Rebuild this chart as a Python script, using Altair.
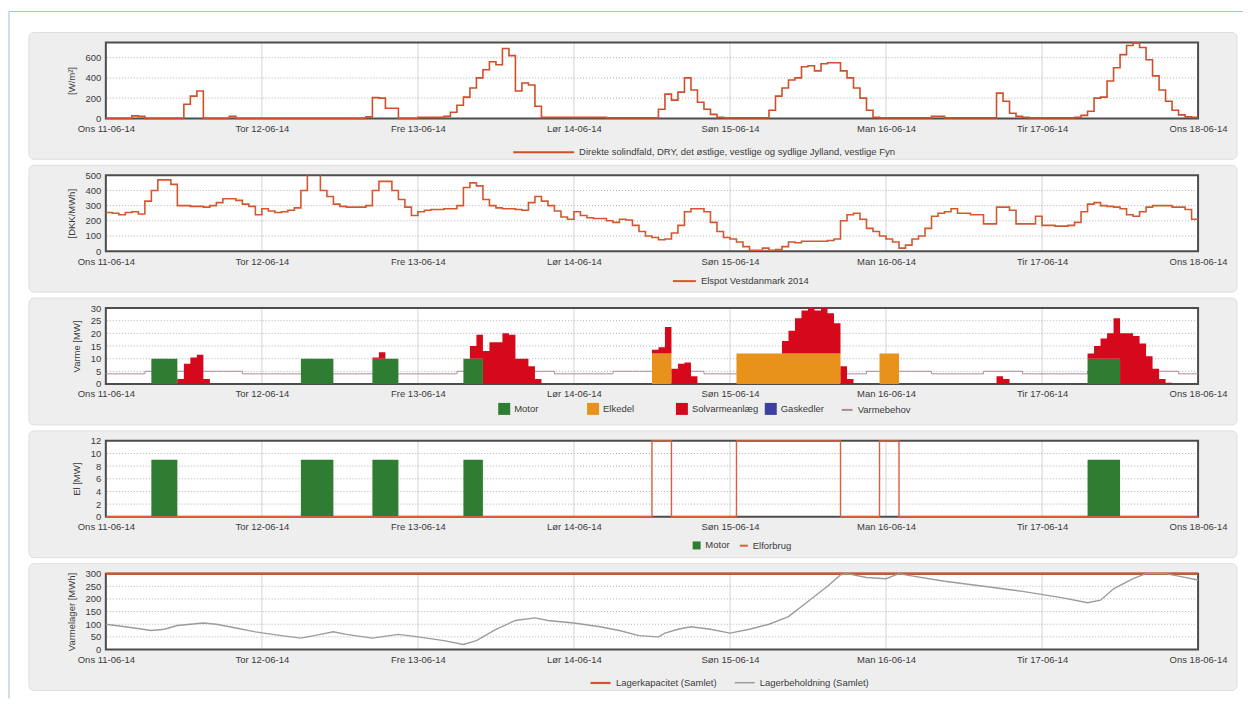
import altair as alt
import pandas as pd

# ---------------- data ----------------
day_labels = ["Ons 11-06-14", "Tor 12-06-14", "Fre 13-06-14", "Lør 14-06-14",
              "Søn 15-06-14", "Man 16-06-14", "Tir 17-06-14", "Ons 18-06-14"]
day_ticks = [0, 24, 48, 72, 96, 120, 144, 168]

solar_name = "Direkte solindfald, DRY, det østlige, vestlige og sydlige Jylland, vestlige Fyn"
spot_name = "Elspot Vestdanmark 2014"
heat_names = ["Motor", "Elkedel", "Solvarmeanlæg", "Gaskedler"]
heat_colors = ["#2f7d32", "#e8921c", "#d5091b", "#3f3f9f"]
demand_name = "Varmebehov"
el_names = ["Motor", "Elforbrug"]
store_names = ["Lagerkapacitet (Samlet)", "Lagerbeholdning (Samlet)"]

# hourly direct solar radiation [W/m2]
solar = (
    [0, 0, 0, 0, 25, 20, 0, 0, 0, 0, 0, 0, 140, 220, 270, 0, 0, 0, 0, 20, 0, 0, 0, 0]
    + [0, 0, 0, 0, 0, 0, 0, 0, 0, 0, 0, 0, 0, 0, 0, 0, 15, 205, 200, 100, 100, 0, 0, 0]
    + [10, 10, 10, 10, 20, 60, 130, 210, 300, 400, 480, 560, 530, 690, 620, 270, 350, 330, 120, 10, 10, 10, 10, 10]
    + [10, 10, 10, 10, 10, 5, 5, 5, 5, 5, 5, 5, 5, 90, 240, 180, 260, 400, 280, 160, 90, 40, 10, 5]
    + [5, 5, 5, 5, 5, 5, 80, 220, 300, 380, 400, 510, 520, 470, 540, 550, 550, 470, 400, 300, 200, 80, 10, 5]
    + [5, 5, 5, 5, 5, 5, 5, 20, 20, 5, 5, 5, 5, 5, 5, 5, 5, 250, 170, 50, 20, 10, 5, 5]
    + [5, 5, 5, 5, 5, 10, 30, 70, 200, 210, 370, 500, 630, 720, 745, 700, 580, 420, 280, 170, 80, 35, 15, 10]
)

# hourly spot price [DKK/MWh]
spot = (
    [255, 250, 240, 255, 260, 245, 330, 400, 470, 470, 440, 300, 300, 295, 295, 290, 300, 320, 345, 345, 335, 310, 295, 240]
    + [280, 265, 255, 260, 270, 285, 400, 520, 520, 400, 360, 310, 295, 290, 290, 290, 300, 400, 460, 460, 400, 340, 290, 235]
    + [260, 270, 275, 275, 280, 280, 300, 420, 450, 430, 340, 300, 285, 280, 280, 275, 270, 320, 360, 330, 300, 265, 225, 210]
    + [260, 235, 220, 215, 215, 200, 190, 210, 205, 170, 130, 100, 90, 75, 80, 120, 170, 260, 280, 280, 260, 190, 130, 90]
    + [80, 60, 30, 5, 5, 20, 5, 10, 30, 60, 55, 65, 65, 65, 65, 70, 80, 200, 240, 250, 210, 150, 130, 100]
    + [80, 60, 20, 40, 80, 100, 150, 230, 250, 260, 280, 250, 250, 240, 240, 180, 180, 290, 290, 270, 180, 180, 180, 230]
    + [170, 170, 165, 165, 170, 190, 260, 310, 320, 300, 295, 290, 280, 240, 230, 260, 290, 300, 300, 300, 290, 290, 275, 210]
)

# heat production [MW]
motor_heat = (
    [0, 0, 0, 0, 0, 0, 0, 10, 10, 10, 10, 0, 0, 0, 0, 0, 0, 0, 0, 0, 0, 0, 0, 0]
    + [0, 0, 0, 0, 0, 0, 10, 10, 10, 10, 10, 0, 0, 0, 0, 0, 0, 10, 10, 10, 10, 0, 0, 0]
    + [0, 0, 0, 0, 0, 0, 0, 10, 10, 10, 0, 0, 0, 0, 0, 0, 0, 0, 0, 0, 0, 0, 0, 0]
    + [0, 0, 0, 0, 0, 0, 0, 0, 0, 0, 0, 0, 0, 0, 0, 0, 0, 0, 0, 0, 0, 0, 0, 0]
    + [0, 0, 0, 0, 0, 0, 0, 0, 0, 0, 0, 0, 0, 0, 0, 0, 0, 0, 0, 0, 0, 0, 0, 0]
    + [0, 0, 0, 0, 0, 0, 0, 0, 0, 0, 0, 0, 0, 0, 0, 0, 0, 0, 0, 0, 0, 0, 0, 0]
    + [0, 0, 0, 0, 0, 0, 0, 10, 10, 10, 10, 10, 0, 0, 0, 0, 0, 0, 0, 0, 0, 0, 0, 0]
)
elkedel_heat = (
    [0, 0, 0, 0, 0, 0, 0, 0, 0, 0, 0, 0, 0, 0, 0, 0, 0, 0, 0, 0, 0, 0, 0, 0]
    + [0, 0, 0, 0, 0, 0, 0, 0, 0, 0, 0, 0, 0, 0, 0, 0, 0, 0, 0, 0, 0, 0, 0, 0]
    + [0, 0, 0, 0, 0, 0, 0, 0, 0, 0, 0, 0, 0, 0, 0, 0, 0, 0, 0, 0, 0, 0, 0, 0]
    + [0, 0, 0, 0, 0, 0, 0, 0, 0, 0, 0, 0, 12, 12, 12, 0, 0, 0, 0, 0, 0, 0, 0, 0]
    + [0, 12, 12, 12, 12, 12, 12, 12, 12, 12, 12, 12, 12, 12, 12, 12, 12, 0, 0, 0, 0, 0, 0, 12]
    + [12, 12, 0, 0, 0, 0, 0, 0, 0, 0, 0, 0, 0, 0, 0, 0, 0, 0, 0, 0, 0, 0, 0, 0]
    + [0, 0, 0, 0, 0, 0, 0, 0, 0, 0, 0, 0, 0, 0, 0, 0, 0, 0, 0, 0, 0, 0, 0, 0]
)
solvarme_heat = (
    [0, 0, 0, 0, 0, 0, 0, 0, 0, 0, 0, 2, 8, 10.5, 11.5, 2, 0, 0, 0, 0, 0, 0, 0, 0]
    + [0, 0, 0, 0, 0, 0, 0, 0, 0, 0, 0, 0, 0, 0, 0, 0, 0, 0.5, 2.5, 0, 0, 0, 0, 0]
    + [0, 0, 0, 0, 0, 0, 0, 0, 5, 9.5, 13, 16.5, 16.5, 20, 19.5, 10, 10, 7, 2, 0, 0, 0, 0, 0]
    + [0, 0, 0, 0, 0, 0, 0, 0, 0, 0, 0, 0, 1.5, 2.5, 10.5, 6, 8, 8.5, 3, 0, 0, 0, 0, 0]
    + [0, 0, 0, 0, 0, 0, 0, 0, 5, 9, 14, 17, 18, 17, 18, 16, 12, 7, 2, 0, 0, 0, 0, 0]
    + [0, 0, 0, 0, 0, 0, 0, 0, 0, 0, 0, 0, 0, 0, 0, 0, 0, 3, 2, 0, 0, 0, 0, 0]
    + [0, 0, 0, 0, 0, 0, 0, 2, 5, 8, 10, 16, 20, 20, 19, 16, 11, 6, 2, 0.5, 0, 0, 0, 0]
)
gas_heat = [0] * len(solar)
varmebehov = (
    [4, 4, 4, 4, 4, 4, 5, 5, 5, 5, 5, 5, 5, 5, 5, 5, 5, 5, 5, 5, 5, 4, 4, 4]
    + [4, 4, 4, 4, 4, 4, 4, 4, 4, 4, 4, 4, 4, 4, 4, 4, 4, 4, 4, 4, 4, 4, 4, 4]
    + [4, 4, 4, 4, 4, 4, 5, 5, 5, 5, 5, 5, 5, 5, 5, 5, 5, 5, 5, 5, 5, 4, 4, 4]
    + [4, 4, 4, 4, 4, 4, 5, 5, 5, 5, 5, 5, 5, 5, 5, 5, 5, 5, 5, 5, 4, 4, 4, 4]
    + [4, 4, 4, 4, 4, 4, 4, 4, 4, 4, 4, 4, 4, 4, 4, 4, 4, 4, 4, 4, 4, 5, 5, 5]
    + [5, 5, 5, 5, 5, 5, 5, 4, 4, 4, 4, 4, 4, 4, 4, 5, 5, 5, 5, 5, 5, 4, 4, 4]
    + [4, 4, 4, 4, 4, 4, 4, 5, 5, 5, 5, 5, 5, 5, 5, 5, 5, 5, 5, 5, 5, 4, 4, 4]
)

# electricity [MW]
motor_el = [9 if v > 0 else 0 for v in motor_heat]
elforbrug = [12 if v > 0 else 0 for v in elkedel_heat]

# heat storage [MWh]
store_hours = [0, 3, 7, 9, 11, 15, 17, 20, 23, 27, 30, 33, 35, 37, 41, 45, 48, 52, 55, 57,
               60, 63, 66, 68, 72, 76, 79, 82, 85, 86, 88, 90, 93, 96, 99, 102, 105, 108,
               111, 113, 114, 117, 120, 122, 123, 129, 135, 141, 147, 151, 153, 155, 158,
               160, 163, 165, 168]
store_values = [100, 90, 75, 80, 95, 105, 100, 85, 70, 55, 45, 60, 70, 60, 45, 60, 50, 35, 20, 35,
                80, 115, 125, 115, 105, 90, 75, 55, 50, 65, 80, 90, 80, 65, 80, 100, 130, 190,
                250, 295, 300, 285, 280, 300, 295, 270, 250, 230, 205, 185, 195, 240, 280,
                300, 300, 290, 275]
store_capacity = [300, 300]
capacity_hours = [0, 168]

# ---------------- layout / style ----------------
W, H = 1094, 76
PITCH = 133
TXT = "#3a3a3a"
FS = 9.5
hours = list(range(len(solar)))
x_scale = alt.Scale(domain=[0, 168], nice=False, zero=False)
label_expr = "[" + ", ".join("'%s'" % s for s in day_labels) + "][round(datum.value / 24)]"
one = pd.DataFrame({"k": [0]})


def x_axis():
    return alt.Axis(values=day_ticks, labelExpr=label_expr, title=None, grid=False, ticks=False,
                    domain=False, labelFontSize=FS, labelColor=TXT, labelPadding=5,
                    labelFlush=False, labelOverlap=False, zindex=1)


def y_axis(title, ticks):
    return alt.Axis(values=ticks, title=title, grid=False, ticks=False, domain=False,
                    labelFontSize=FS, labelColor=TXT, labelPadding=5, titleFontSize=FS,
                    titleFontWeight="normal", titleColor=TXT, titlePadding=9, zindex=1)


def base_layers(y_scale, y_ticks, y_grid, y_title):
    bg = alt.Chart(one).mark_rect(color="#eeeeee", stroke="#dedede", cornerRadius=5).encode(
        x=alt.value(-77), x2=alt.value(W + 39), y=alt.value(-10), y2=alt.value(H + 41))
    plot = alt.Chart(one).mark_rect(color="white").encode(
        x=alt.value(0), x2=alt.value(W), y=alt.value(0), y2=alt.value(H))
    vg = alt.Chart(pd.DataFrame({"t": day_ticks[1:-1]})).mark_rule(
        color="#d4d4d4", strokeWidth=1).encode(
        x=alt.X("t:Q", scale=x_scale, axis=x_axis()))
    hg = alt.Chart(pd.DataFrame({"v": y_grid})).mark_rule(
        color="#b0b0b0", strokeWidth=1, strokeDash=[1, 2]).encode(
        y=alt.Y("v:Q", scale=y_scale, axis=y_axis(y_title, y_ticks)))
    frame = alt.Chart(one).mark_rect(fillOpacity=0, stroke="#4d4d4d", strokeWidth=2).encode(
        x=alt.value(0), x2=alt.value(W), y=alt.value(0), y2=alt.value(H))
    return [bg, plot, vg, hg, frame]


def step_df(values, name):
    return pd.DataFrame({"hour": hours + [168], "value": list(values) + list(values[-1:]),
                         "series": name})


def stacked_df(names, series_list):
    rows = []
    for h in hours + [168]:
        base = 0.0
        for name, series in zip(names, series_list):
            v = series[min(h, len(series) - 1)]
            rows.append({"hour": h, "series": name, "y0": base, "y1": base + v,
                         "order": names.index(name)})
            base += v
    return pd.DataFrame(rows)


def line_legend(x_start, y_center, length, gap=4, col_pad=10):
    # line symbol of given pixel length inside a 10px legend box
    k = length / 10.0
    return alt.Legend(orient="none", legendX=x_start + length / 2.0 - 5, legendY=y_center - 5,
                      title=None, direction="horizontal",
                      symbolType="M-%g,0H%g" % (k, k), symbolSize=100, symbolStrokeWidth=2,
                      labelOffset=length / 2.0 + gap - 5, labelFontSize=FS, labelColor=TXT,
                      columnPadding=col_pad, labelLimit=500)


def box_legend(x, y_center, side):
    return alt.Legend(orient="none", legendX=x, legendY=y_center - side / 2.0, title=None,
                      direction="horizontal", symbolType="square", symbolSize=side * side,
                      symbolStrokeWidth=0, labelFontSize=FS, labelColor=TXT, gridAlign="all",
                      columnPadding=6, labelOffset=4)


# page frame (thin blue border at top and left)
frame_top = alt.Chart(one).mark_rule(color="#9cbfe3", strokeWidth=1).encode(
    x=alt.value(-97), x2=alt.value(W + 45), y=alt.value(-31))
frame_left = alt.Chart(one).mark_rule(color="#9cbfe3", strokeWidth=1).encode(
    x=alt.value(-97), y=alt.value(-31), y2=alt.value(657))

# ---------- panel 1: solar ----------
ys1 = alt.Scale(domain=[0, 750], nice=False)
t1 = [0, 200, 400, 600]
p1_line = alt.Chart(step_df(solar, solar_name)).mark_line(
    interpolate="step-after", strokeWidth=1.6).encode(
    x=alt.X("hour:Q", scale=x_scale, axis=x_axis()),
    y=alt.Y("value:Q", scale=ys1, axis=y_axis("[W/m²]", t1)),
    color=alt.Color("series:N", scale=alt.Scale(domain=[solar_name], range=["#cf4f2a"]),
                    legend=line_legend(407, 109, 61)))
p1 = alt.layer(frame_top, frame_left, *base_layers(ys1, t1, [200, 400, 600], "[W/m²]"),
               p1_line).properties(width=W, height=H)

# ---------- panel 2: spot price ----------
ys2 = alt.Scale(domain=[0, 500], nice=False)
t2 = [0, 100, 200, 300, 400, 500]
p2_line = alt.Chart(step_df(spot, spot_name)).mark_line(
    interpolate="step-after", strokeWidth=1.6, clip=True).encode(
    x=alt.X("hour:Q", scale=x_scale, axis=x_axis()),
    y=alt.Y("value:Q", scale=ys2, axis=y_axis("[DKK/MWh]", t2)),
    color=alt.Color("series:N", scale=alt.Scale(domain=[spot_name], range=["#d4582e"]),
                    legend=line_legend(567, 105, 23)))
p2 = alt.layer(*base_layers(ys2, t2, [100, 200, 300, 400], "[DKK/MWh]"), p2_line).properties(width=W, height=H)

# ---------- panel 3: heat ----------
heat_df = stacked_df(heat_names, [motor_heat, elkedel_heat, solvarme_heat, gas_heat])
ys3 = alt.Scale(domain=[0, 30], nice=False)
t3 = [0, 5, 10, 15, 20, 25, 30]
p3_demand = alt.Chart(step_df(varmebehov, demand_name)).mark_line(
    interpolate="step-after", strokeWidth=1).encode(
    x=alt.X("hour:Q", scale=x_scale, axis=x_axis()),
    y=alt.Y("value:Q", scale=ys3, axis=y_axis("Varme [MW]", t3)),
    color=alt.Color("series:N", scale=alt.Scale(domain=[demand_name], range=["#ad8a9a"]),
                    legend=line_legend(736, 101, 11)))
heat_scale = alt.Scale(domain=heat_names, range=heat_colors)
p3_bars = alt.Chart(heat_df).mark_area(interpolate="step-after").encode(
    x=alt.X("hour:Q", scale=x_scale, axis=x_axis()),
    y=alt.Y("y1:Q", scale=ys3, axis=y_axis("Varme [MW]", t3)), y2="y0:Q",
    color=alt.Color("series:N", scale=heat_scale, legend=box_legend(393, 101, 12)),
    detail="series:N", order="order:Q")
p3 = alt.layer(*base_layers(ys3, t3, [5, 10, 15, 20, 25], "Varme [MW]"), p3_demand, p3_bars).resolve_scale(
    color="independent").properties(width=W, height=H)

# ---------- panel 4: electricity ----------
el_df = stacked_df(["Motor"], [motor_el])
ys4 = alt.Scale(domain=[0, 12], nice=False)
t4 = [0, 2, 4, 6, 8, 10, 12]
motor_scale = alt.Scale(domain=["Motor"], range=[heat_colors[0]])
p4_bars = alt.Chart(el_df).mark_area(interpolate="step-after").encode(
    x=alt.X("hour:Q", scale=x_scale, axis=x_axis()),
    y=alt.Y("y1:Q", scale=ys4, axis=y_axis("El [MW]", t4)), y2="y0:Q",
    color=alt.Color("series:N", scale=motor_scale, legend=box_legend(587, 104, 8)))
p4_line = alt.Chart(step_df(elforbrug, el_names[1])).mark_line(
    interpolate="step-after", strokeWidth=1.4).encode(
    x=alt.X("hour:Q", scale=x_scale, axis=x_axis()),
    y=alt.Y("value:Q", scale=ys4, axis=y_axis("El [MW]", t4)),
    color=alt.Color("series:N", scale=alt.Scale(domain=[el_names[1]], range=["#d9603a"]),
                    legend=line_legend(634, 104, 8)))
p4 = alt.layer(*base_layers(ys4, t4, [2, 4, 6, 8, 10], "El [MW]"), p4_bars, p4_line).resolve_scale(
    color="independent").properties(width=W, height=H)

# ---------- panel 5: storage ----------
store_df = pd.concat([
    pd.DataFrame({"hour": capacity_hours, "value": store_capacity, "series": store_names[0]}),
    pd.DataFrame({"hour": store_hours, "value": store_values, "series": store_names[1]}),
])
ys5 = alt.Scale(domain=[0, 300], nice=False)
t5 = [0, 50, 100, 150, 200, 250, 300]
p5_lines = alt.Chart(store_df).mark_line().encode(
    x=alt.X("hour:Q", scale=x_scale, axis=x_axis()),
    y=alt.Y("value:Q", scale=ys5, axis=y_axis("Varmelager [MWh]", t5)),
    color=alt.Color("series:N", scale=alt.Scale(domain=store_names, range=["#d4532b", "#9a9e98"]),
                    legend=line_legend(484, 108, 20, col_pad=15)),
    strokeWidth=alt.StrokeWidth("series:N", scale=alt.Scale(domain=store_names, range=[2.2, 1.4]),
                                legend=None),
    detail="series:N")
p5 = alt.layer(*base_layers(ys5, t5, [50, 100, 150, 200, 250], "Varmelager [MWh]"), p5_lines).properties(
    width=W, height=H)

chart = alt.vconcat(p1, p2, p3, p4, p5, spacing=PITCH - H, bounds="flush").resolve_scale(
    color="independent", strokeWidth="independent"
).properties(
    padding={"left": 0, "top": 2, "right": 0, "bottom": 0}
).configure(font="Liberation Sans").configure_view(strokeWidth=0)

chart.save("out.html", embed_options={"renderer": "svg", "actions": False})
